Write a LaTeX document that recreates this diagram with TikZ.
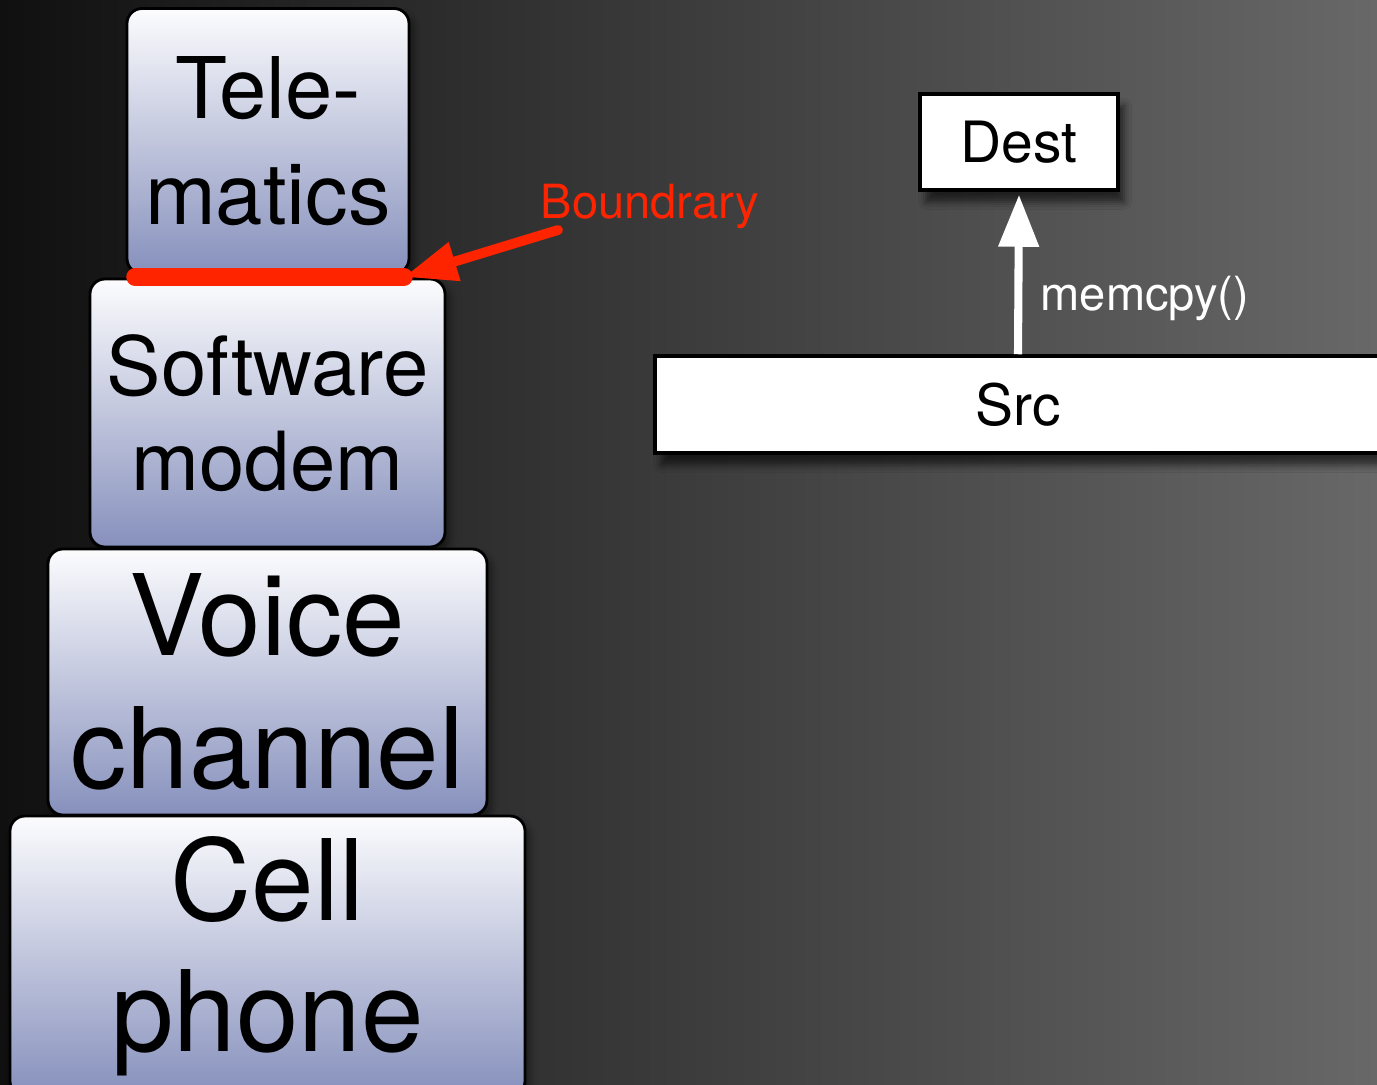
\documentclass[tikz,border=0pt]{standalone}
\usepackage{fontspec}
\setmainfont{TeX Gyre Heros}
\usetikzlibrary{arrows.meta,shadows.blur}

\definecolor{bgleft}{RGB}{16,16,16}
\definecolor{bgright}{RGB}{104,104,104}
\definecolor{boxtop}{RGB}{252,252,254}
\definecolor{boxbot}{RGB}{134,144,188}
\definecolor{bndred}{RGB}{255,36,0}

\begin{document}
\begin{tikzpicture}[
  layer/.style={draw=black, line width=0.8pt, rounded corners=0.15cm,
    top color=boxtop, bottom color=boxbot, align=center, inner sep=0pt,
    blur shadow={shadow xshift=0.4mm, shadow yshift=-0.6mm, shadow opacity=50}},
  membox/.style={draw=black, line width=1pt, fill=white, inner sep=0pt,
    font=\fontsize{16.2}{19}\selectfont,
    blur shadow={shadow xshift=0.6mm, shadow yshift=-1.2mm, shadow opacity=60}},
  lbl/.style={inner sep=0pt, anchor=base west, font=\fontsize{13.4}{16}\selectfont},
]

% backdrop
\useasboundingbox (0,0) rectangle (13.77,10.84);
\shade[left color=bgleft, right color=bgright] (0,0) rectangle (13.77,10.84);

% the stack, top layer first
\node[layer, minimum width=2.82cm, minimum height=2.65cm, font=\fontsize{24.2}{30}\selectfont] (tele) at (2.68,9.43) {Tele-\\matics};
\node[layer, minimum width=3.55cm, minimum height=2.68cm, font=\fontsize{23.2}{27}\selectfont] (modem) at (2.675,6.71) {Software\\modem};
\node[layer, minimum width=4.39cm, minimum height=2.66cm, font=\fontsize{32}{37.8}\selectfont] (voice) at (2.675,4.02) {Voice\\channel};
\node[layer, minimum width=5.15cm, minimum height=2.80cm, font=\fontsize{32}{37.3}\selectfont] (cell) at (2.675,1.28) {Cell\\phone};

% boundary between telematics and modem
\coordinate (bl) at (1.35,8.07);
\coordinate (br) at (4.04,8.07);
\coordinate (btail) at (5.58,8.54);
\draw[bndred, line width=5pt, line cap=round] (bl) -- (br);
\draw[bndred, line width=2.8pt, line cap=round, -{Triangle[length=0.53cm, width=0.38cm]}] (btail) -- (br);
\node[lbl, text=bndred] (bndlabel) at (5.40,8.66) {Boundrary};

% copy from src to dest
\node[membox, minimum width=7.26cm, minimum height=0.97cm] (src) at (10.18,6.795) {Src};
\node[membox, minimum width=1.98cm, minimum height=0.96cm] (dest) at (10.19,9.42) {Dest};
\draw[white, line width=2.3pt, -{Triangle[length=0.52cm, width=0.39cm]}, shorten >=0.03cm] (src.north) -- (dest.south);
\node[lbl, text=white] (copylabel) at (10.40,7.74) {memcpy()};

\end{tikzpicture}
\end{document}
